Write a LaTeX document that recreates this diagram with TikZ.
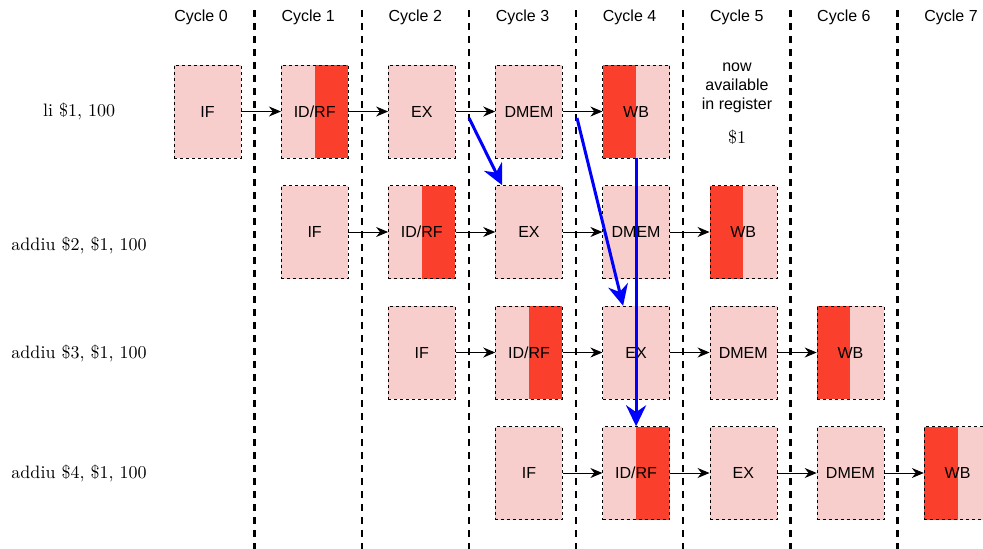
\documentclass[tikz,border=0pt]{standalone}
\usepackage{fontspec}
\newfontfamily\stagefont{Liberation Sans}
\newfontfamily\instrfont{lmroman10-regular}[Extension=.otf]
\usepackage{tikz}
\usetikzlibrary{arrows.meta}
\definecolor{stagepink}{RGB}{248,206,204}
\definecolor{regred}{RGB}{250,64,44}
\tikzstyle{stage} = [rectangle, draw, dashed, fill=stagepink,
    minimum width=67pt, minimum height=93pt, inner sep=0pt,
    font=\stagefont\fontsize{16}{19}\selectfont]
\tikzstyle{readreg} = [stage, path picture={\fill[regred]
    (path picture bounding box.north) rectangle (path picture bounding box.south east);}]
\tikzstyle{writereg} = [stage, path picture={\fill[regred]
    (path picture bounding box.north west) rectangle (path picture bounding box.south);}]
\tikzstyle{line} = [draw, line width=1pt, -{Stealth[length=12pt,width=10pt]}]
\tikzstyle{forward} = [draw, blue, line width=3pt, -{Stealth[length=21pt,width=20pt]}]
\tikzstyle{cyclelabel} = [font=\stagefont\fontsize{16}{19}\selectfont]
\tikzstyle{instr} = [font=\instrfont\fontsize{18}{21}\selectfont]
\tikzstyle{boundary} = [draw, line width=2.4pt, dash pattern=on 7pt off 6pt]

\begin{document}
\begin{tikzpicture}[x=1pt, y=-1pt, node distance=107.15pt]
\useasboundingbox (0,0) rectangle (983,549);

    % Cycle headers and boundaries
\node[cyclelabel] (c0) at (201,17) {Cycle 0};
\node[cyclelabel] (c1) at (308.2,17) {Cycle 1};
\node[cyclelabel] (c2) at (415.3,17) {Cycle 2};
\node[cyclelabel] (c3) at (522.5,17) {Cycle 3};
\node[cyclelabel] (c4) at (629.6,17) {Cycle 4};
\node[cyclelabel] (c5) at (736.8,17) {Cycle 5};
\node[cyclelabel] (c6) at (843.9,17) {Cycle 6};
\node[cyclelabel] (c7) at (951,17) {Cycle 7};
\path[boundary] (254.6,10) -- (254.6,549);
\path[boundary] (361.7,10) -- (361.7,549);
\path[boundary] (468.9,10) -- (468.9,549);
\path[boundary] (576,10) -- (576,549);
\path[boundary] (683.2,10) -- (683.2,549);
\path[boundary] (790.3,10) -- (790.3,549);
\path[boundary] (897.5,10) -- (897.5,549);

    % Instructions
\node[instr] (li) at (79,111) {li \$1, 100};
\node[instr] (add2) at (79,245) {addiu \$2, \$1, 100};
\node[instr] (add3) at (79,353) {addiu \$3, \$1, 100};
\node[instr] (add4) at (79,473) {addiu \$4, \$1, 100};

    % Place stages
\node[stage] (if0) at (207.5,111.5) {IF};
\node[readreg, right of=if0] (id0) {ID/RF};
\node[stage, right of=id0] (ex0) {EX};
\node[stage, right of=ex0] (mem0) {DMEM};
\node[writereg, right of=mem0] (wb0) {WB};

\node[stage, below of=id0, node distance=120.5pt] (if1) {IF};
\node[readreg, right of=if1] (id1) {ID/RF};
\node[stage, right of=id1] (ex1) {EX};
\node[stage, right of=ex1] (mem1) {DMEM};
\node[writereg, right of=mem1] (wb1) {WB};

\node[stage, below of=id1, node distance=120.5pt] (if2) {IF};
\node[readreg, right of=if2] (id2) {ID/RF};
\node[stage, right of=id2] (ex2) {EX};
\node[stage, right of=ex2] (mem2) {DMEM};
\node[writereg, right of=mem2] (wb2) {WB};

\node[stage, below of=id2, node distance=120.5pt] (if3) {IF};
\node[readreg, right of=if3] (id3) {ID/RF};
\node[stage, right of=id3] (ex3) {EX};
\node[stage, right of=ex3] (mem3) {DMEM};
\node[writereg, right of=mem3] (wb3) {WB};

\node[cyclelabel, align=center] (note) at (737,88) {now\\available\\in register};
\node[instr] (reg) at (737,137) {\$1};

    % Draw edges
\path [line] (if0) -- (id0);
\path [line] (id0) -- (ex0);
\path [line] (ex0) -- (mem0);
\path [line] (mem0) -- (wb0);
\path [line] (if1) -- (id1);
\path [line] (id1) -- (ex1);
\path [line] (ex1) -- (mem1);
\path [line] (mem1) -- (wb1);
\path [line] (if2) -- (id2);
\path [line] (id2) -- (ex2);
\path [line] (ex2) -- (mem2);
\path [line] (mem2) -- (wb2);
\path [line] (if3) -- (id3);
\path [line] (id3) -- (ex3);
\path [line] (ex3) -- (mem3);
\path [line] (mem3) -- (wb3);

    % Forwarding
\coordinate (fwd1) at (469,118);
\coordinate (fwd2) at (577,118);
\path [forward] (fwd1) -- ([xshift=7pt]ex1.north west);
\path [forward] (fwd2) -- ([xshift=-13pt]ex2.north);
\path [forward] (wb0.south) -- (id3.north);

\end{tikzpicture}
\end{document}
